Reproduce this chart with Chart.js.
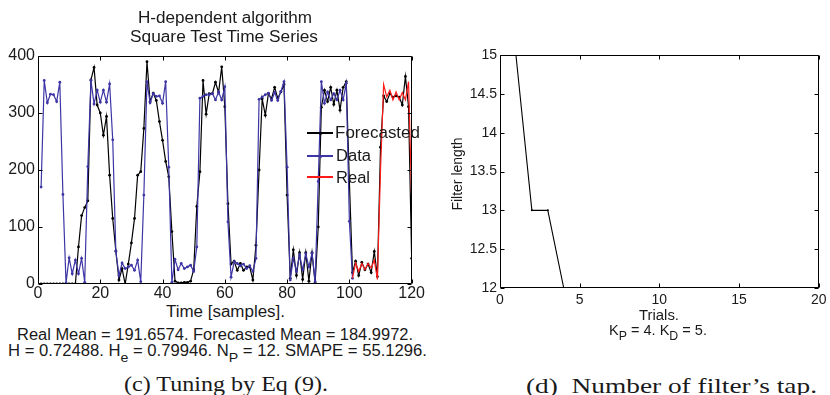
<!DOCTYPE html>
<html lang="en">
<head>
  <meta charset="UTF-8" />
  <title>H-dependent algorithm - Square Test Time Series</title>
  <script src="https://cdn.jsdelivr.net/npm/chart.js"></script>
  <style>
    body { margin: 0; background: #fff; width: 830px; height: 395px; position: relative; overflow: hidden;
           font-family: "Liberation Sans", Arial, sans-serif; color: #1a1a1a; }
    canvas { position: absolute; }
    .t { position: absolute; white-space: nowrap; line-height: 1; font-size: 16px; transform-origin: 0 0; }
    .s14 { font-size: 14px; }
    .serif { font-family: "Liberation Serif", "Times New Roman", serif; font-size: 22px; }
    sub { font-size: 0.85em; vertical-align: -0.45em; line-height: 0; }
    .leg { position: absolute; height: 1.2px; width: 26px; left: 307px; }
    .dot { position: absolute; width: 3px; height: 3px; border-radius: 50%; left: 318.5px; }
  </style>
</head>
<body>
  <canvas id="tsChart" width="425" height="300" style="left:0;top:0"></canvas>
  <canvas id="tapChart" width="390" height="310" style="left:440px;top:0"></canvas>

  <div class="t" data-w="174" style="left:138px;top:9.5px">H-dependent algorithm</div>
  <div class="t" data-w="188" style="left:130px;top:29px">Square Test Time Series</div>
  <div class="t" data-w="119" style="left:166px;top:303.5px">Time [samples].</div>
  <div class="t" data-w="396" style="left:17px;top:326.5px">Real Mean = 191.6574. Forecasted Mean = 184.9972.</div>
  <div class="t" data-w="419" style="left:8px;top:342.5px">H = 0.72488. H<sub>e</sub> = 0.79946. N<sub>P</sub> = 12. SMAPE = 55.1296.</div>
  <div class="t serif" data-w="204" style="left:124px;top:372.5px">(c) Tuning by Eq (9).</div>

  <div class="leg" style="top:132.4px;background:#000"></div>
  <div class="dot" style="top:131.5px;background:#000"></div>
  <div class="leg" style="top:155.4px;background:#3d35a5"></div>
  <div class="dot" style="top:154.5px;background:#3d35a5"></div>
  <div class="leg" style="top:176.4px;background:#ff1a1a"></div>
  <div class="t" data-w="85" style="left:335px;top:124.5px">Forecasted</div>
  <div class="t" data-w="35" style="left:336px;top:148px">Data</div>
  <div class="t" data-w="34" style="left:336px;top:170px">Real</div>

  <div class="t s14" style="left:457px;top:173.5px;transform:translate(-50%,-50%) rotate(-90deg);transform-origin:50% 50%">Filter length</div>
  <div class="t s14" data-w="40" style="left:639px;top:307.5px">Trials.</div>
  <div class="t s14" data-w="98" style="left:609px;top:322.5px">K<sub>P</sub> = 4. K<sub>D</sub> = 5.</div>
  <div class="t serif" data-w="291" style="left:526px;top:374.5px">(d)&nbsp; Number of filter’s tap.</div>

  <script>
    // left panel: square test time series (sample numbers start at 1)
    const forecastStart = 1;
    const forecasted = [
      0, 0, 0, 0, 0, 0, 0, 0, 0, 0, 0, 0, 65, 120, 134, 146, 358, 380, 314, 300,
      261, 294, 191, 115, 58, 7, 27, 0, 35, 72, 115, 191, 197, 273, 390, 320, 335, 322, 285, 252,
      215, 188, 92, 5, 2, 2, 3, 3, 5, 25, 136, 197, 357, 298, 334, 334, 354, 336, 381, 311,
      141, 35, 40, 24, 36, 24, 30, 30, 7, 68, 200, 325, 296, 334, 325, 345, 326, 337, 350, 156,
      10, 60, 15, 55, 8, 55, 5, 55, 2, 100, 310, 340, 320, 345, 315, 340, 305, 345, 355, 180,
      20, 40, 15, 38, 25, 35, 20, 57, 13, 240, 330, 320, 334, 328, 330, 328, 314, 364, 311, 45
    ];
    const dataStart = 1;
    const series = [
      170, 357, 318, 333, 332, 320, 354, 157, 2, 46, 18, 42, 18, 45, 3, 206, 357, 316, 340, 319,
      340, 319, 351, 253, 57, 15, 37, 27, 30, 33, 24, 42, 4, 156, 355, 318, 334, 329, 330, 317,
      355, 205, 3, 43, 25, 36, 27, 30, 33, 22, 65, 326, 329, 332, 332, 334, 323, 337, 323, 346,
      109, 12, 39, 36, 32, 35, 27, 32, 22, 45, 324, 328, 332, 335, 322, 336, 322, 338, 355, 205,
      7, 45, 22, 51, 25, 53, 30, 54, 4, 180, 355, 317, 337, 323, 334, 323, 340, 323, 352, 110,
      10
    ];
    const realStart = 101;
    const real = [10, 37, 22, 36, 25, 36, 28, 42, 8, 200, 350, 328, 340, 323, 337, 323, 336, 323, 355, 150];

    // right panel: filter length per trial
    const trials = [1, 2, 3, 4, 5, 6, 7, 8, 9, 10, 11, 12, 13, 14, 15, 16, 17, 18, 19, 20];
    const filterLength = [15, 13, 13, 12, 12, 12, 12, 12, 12, 12, 12, 12, 12, 12, 12, 12, 12, 12, 12, 12];

    const ink = '#1a1a1a';
    const toPoints = (start, vals) => vals.map((v, i) => ({ x: start + i, y: v }));

    // matlab style box with inward ticks
    const frame = {
      id: 'frame',
      afterDatasetsDraw(chart) {
        const { ctx, chartArea: a, scales: { x, y } } = chart;
        const L = Math.round(a.left) + 0.5, R = Math.round(a.right) - 0.5;
        const T = Math.round(a.top) + 0.5, B = Math.round(a.bottom) - 0.5;
        ctx.save();
        ctx.strokeStyle = '#000';
        ctx.lineWidth = 1;
        ctx.beginPath();
        ctx.rect(L, T, R - L, B - T);
        x.ticks.forEach(t => {
          const p = Math.round(x.getPixelForValue(t.value)) + 0.5;
          ctx.moveTo(p, B); ctx.lineTo(p, B - 4);
          ctx.moveTo(p, T); ctx.lineTo(p, T + 4);
        });
        y.ticks.forEach(t => {
          const p = Math.round(y.getPixelForValue(t.value)) + 0.5;
          ctx.moveTo(L, p); ctx.lineTo(L + 4, p);
          ctx.moveTo(R, p); ctx.lineTo(R - 4, p);
        });
        ctx.stroke();
        ctx.restore();
      }
    };

    function axis(min, max, step, size, pad, fit) {
      return {
        type: 'linear', min: min, max: max,
        ticks: { stepSize: step, color: ink, padding: pad, maxRotation: 0,
                 callback: v => String(v),
                 font: { family: '"Liberation Sans", Arial, sans-serif', size: size } },
        grid: { display: false, drawTicks: false },
        border: { display: false },
        afterFit: fit
      };
    }

    new Chart(document.getElementById('tsChart'), {
      type: 'line',
      data: {
        datasets: [
          { label: 'Forecasted', data: toPoints(forecastStart, forecasted), borderColor: '#000',
            backgroundColor: '#000', borderWidth: 1.2, pointRadius: 1.4, pointBorderWidth: 0, order: 3 },
          { label: 'Data', data: toPoints(dataStart, series), borderColor: '#3d35a5',
            backgroundColor: '#3d35a5', borderWidth: 1.2, pointRadius: 1.4, pointBorderWidth: 0, order: 2 },
          { label: 'Real', data: toPoints(realStart, real), borderColor: '#ff1a1a',
            borderWidth: 1.2, pointRadius: 0, order: 1 }
        ]
      },
      options: {
        responsive: false, animation: false,
        layout: { padding: { top: 56, right: 12, left: 0, bottom: 0 } },
        plugins: { legend: { display: false }, tooltip: { enabled: false } },
        elements: { line: { tension: 0 } },
        scales: {
          x: axis(0, 120, 20, 16, 0, s => { s.height = 16; }),
          y: axis(0, 400, 100, 16, 3, s => { s.width = 38; })
        }
      },
      plugins: [frame]
    });

    new Chart(document.getElementById('tapChart'), {
      type: 'line',
      data: {
        datasets: [
          { label: 'Filter length', data: trials.map((t, i) => ({ x: t, y: filterLength[i] })),
            borderColor: '#000', backgroundColor: '#000', borderWidth: 1.1, pointRadius: 1, pointBorderWidth: 0 }
        ]
      },
      options: {
        responsive: false, animation: false,
        layout: { padding: { top: 55, right: 9, left: 0, bottom: 0 } },
        plugins: { legend: { display: false }, tooltip: { enabled: false } },
        scales: {
          x: axis(0, 20, 5, 14, 3.5, s => { s.height = 22; }),
          y: axis(12, 15, 0.5, 14, 3, s => { s.width = 60; })
        }
      },
      plugins: [frame]
    });

    // stretch the texts to the widths measured on the figure
    document.querySelectorAll('.t[data-w]').forEach(el => {
      const w = el.getBoundingClientRect().width;
      el.style.transform = 'scaleX(' + (el.dataset.w / w) + ')';
    });
  </script>
</body>
</html>
